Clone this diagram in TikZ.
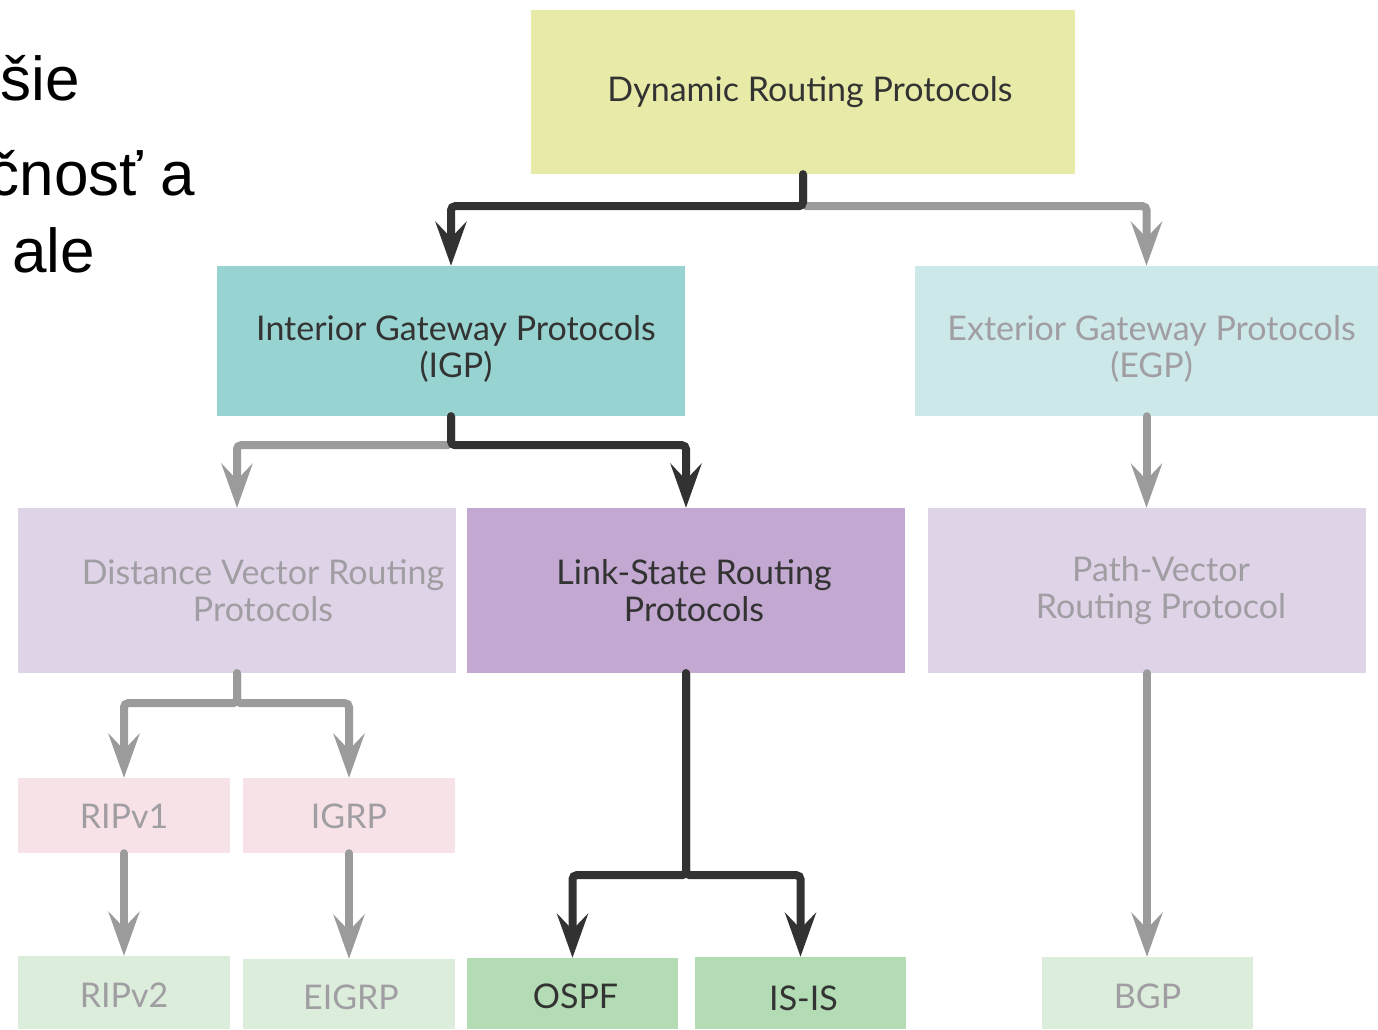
\documentclass[tikz,border=0pt]{standalone}
\usepackage{fontspec}
\setmainfont{Lato}
\newfontfamily\slidefont{Liberation Sans}
\usetikzlibrary{arrows.meta,calc}

\definecolor{linkdark}{HTML}{333233}
\definecolor{linkgray}{HTML}{9B9B9B}
\definecolor{txtdark}{HTML}{333333}
\definecolor{txtgray}{HTML}{A09EA2}
\definecolor{cDyn}{HTML}{E8EBA8}
\definecolor{cIGP}{HTML}{97D3D0}
\definecolor{cEGP}{HTML}{CDE8E8}
\definecolor{cPurLight}{HTML}{DFD3E8}
\definecolor{cPurDark}{HTML}{C3A9D1}
\definecolor{cPink}{HTML}{F7E3E7}
\definecolor{cGreenLight}{HTML}{DCEDDC}
\definecolor{cGreen}{HTML}{B3DBB4}

\tikzset{
  box/.style={rectangle, inner sep=0pt},
  caption/.style={inner sep=0pt, align=center, font=\fontsize{34}{37}\selectfont},
  activetext/.style={caption, text=txtdark},
  fadedtext/.style={caption, text=txtgray},
  link/.style={line width=8pt, rounded corners=4pt, line cap=round,
    -{Stealth[length=44pt, width=31pt, inset=16pt]}},
  darklink/.style={link, draw=linkdark},
  graylink/.style={link, draw=linkgray},
  slidetext/.style={inner sep=0pt, anchor=base east, font=\slidefont\fontsize{62}{70}\selectfont}
}

\begin{document}
\begin{tikzpicture}[x=1pt, y=-1pt]
\useasboundingbox (0,0) rectangle (1378,1029);
\clip (0,0) rectangle (1378,1029);
\fill[white] (0,0) rectangle (1378,1029);

% bullet text of the slide, running off the left edge
\node[slidetext] (s1) at (80,100) {\v{s}ie};
\node[slidetext] (s2) at (195,195) {\v{c}nos\v{t} a};
\node[slidetext] (s3) at (95,272) {ale};

% protocol boxes
\node[box, fill=cDyn, minimum width=544pt, minimum height=164pt] (dyn) at (803,92) {};
\node[box, fill=cIGP, minimum width=468pt, minimum height=150pt] (igp) at (451,341) {};
\node[box, fill=cEGP, minimum width=463pt, minimum height=150pt] (egp) at (1146.5,341) {};
\node[box, fill=cPurLight, minimum width=438pt, minimum height=165pt] (dv) at (237,590.5) {};
\node[box, fill=cPurDark, minimum width=438pt, minimum height=165pt] (ls) at (686,590.5) {};
\node[box, fill=cPurLight, minimum width=438pt, minimum height=165pt] (pv) at (1147,590.5) {};
\node[box, fill=cPink, minimum width=212pt, minimum height=75pt] (rip1) at (124,815.5) {};
\node[box, fill=cPink, minimum width=212pt, minimum height=75pt] (igrp) at (349,815.5) {};
\node[box, fill=cGreenLight, minimum width=212pt, minimum height=73pt] (rip2) at (124,992.5) {};
\node[box, fill=cGreenLight, minimum width=212pt, minimum height=70pt] (eigrp) at (349,994) {};
\node[box, fill=cGreen, minimum width=211pt, minimum height=71pt] (ospf) at (572.5,993.5) {};
\node[box, fill=cGreen, minimum width=211pt, minimum height=72pt] (isis) at (800.5,993) {};
\node[box, fill=cGreenLight, minimum width=211pt, minimum height=72pt] (bgp) at (1147.5,993) {};

% box captions
\node[activetext] (dynT) at ($(dyn.center)+(7,0)$) {Dynamic Routing Protocols};
\node[activetext] (igpT) at ($(igp.center)+(5,8)$) {Interior Gateway Protocols\\(IGP)};
\node[fadedtext] (egpT) at ($(egp.center)+(5,8)$) {Exterior Gateway Protocols\\(EGP)};
\node[fadedtext] (dvT) at ($(dv.center)+(26,0)$) {Distance Vector Routing\\Protocols};
\node[activetext] (lsT) at ($(ls.center)+(8,0)$) {Link-State Routing\\Protocols};
\node[fadedtext] (pvT) at ($(pv.center)+(14,0)$) {Path-Vector\\Routing Protocol};
\node[fadedtext] (rip1T) at ($(rip1.center)+(0,1)$) {RIPv1};
\node[fadedtext] (igrpT) at ($(igrp.center)+(0,1)$) {IGRP};
\node[fadedtext] (rip2T) at ($(rip2.center)+(0,3)$) {RIPv2};
\node[fadedtext] (eigrpT) at ($(eigrp.center)+(2,3)$) {EIGRP};
\node[activetext] (ospfT) at ($(ospf.center)+(3,3)$) {OSPF};
\node[activetext] (isisT) at ($(isis.center)+(3,5)$) {IS-IS};
\node[fadedtext] (bgpT) at ($(bgp.center)+(0,3)$) {BGP};

% connectors: inactive branches first, active path on top
\draw[graylink] (dyn.south) -- ++(0,32) -| (egp.north);
\draw[darklink] (dyn.south) -- ++(0,32) -| (igp.north);

\draw[graylink] (igp.south) -- ++(0,29) -| (dv.north);
\draw[darklink] (igp.south) -- ++(0,29) -| (ls.north);

\draw[graylink] (egp.south) -- (egp.south |- pv.north);

\draw[graylink] (dv.south) -- ++(0,30) -| (rip1.north);
\draw[graylink] (dv.south) -- ++(0,30) -| (igrp.north);
\draw[graylink] (rip1.south) -- (rip2.north);
\draw[graylink] (igrp.south) -- (eigrp.north);

\draw[darklink] (ls.south) -- ++(0,202) -| (ospf.north);
\draw[darklink] (ls.south) -- ++(0,202) -| (isis.north);

\draw[graylink] (pv.south) -- (pv.south |- bgp.north);
\end{tikzpicture}
\end{document}
